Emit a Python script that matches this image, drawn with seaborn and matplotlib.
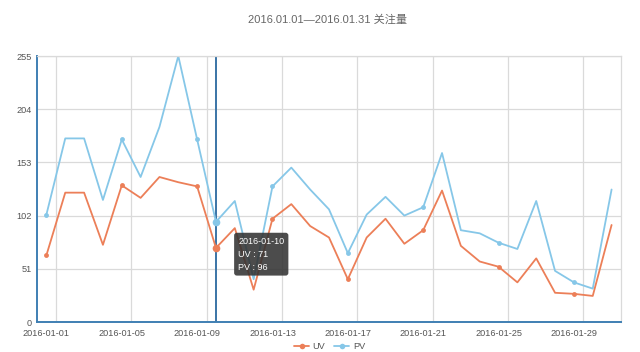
import matplotlib
matplotlib.use("Agg")
import matplotlib.pyplot as plt
from matplotlib.lines import Line2D
import numpy as np
import pandas as pd
import seaborn as sns

# ── data ──────────────────────────────────────────────────────────────────────
DATES = [f"2016-01-{d:02d}" for d in range(1, 32)]
UV = [64, 124, 124, 74, 131, 119, 139, 134, 130, 71, 90, 31, 99, 113, 92, 81,
      41, 81, 99, 75, 88, 126, 73, 58, 53, 38, 61, 28, 27, 25, 93]
PV = [103, 176, 176, 117, 175, 139, 187, 255, 175, 96, 116, 41, 130, 148, 127, 108,
      66, 103, 120, 102, 110, 162, 88, 85, 76, 70, 116, 49, 38, 32, 127]
Y_TICKS = [0, 51, 102, 153, 204, 255]
LABEL_EVERY = 4
HOVER_IDX = 9
TITLE = "2016.01.01—2016.01.31 关注量"

UV_COLOR = "#ec7f58"
PV_COLOR = "#86c7e8"
AXIS_COLOR = "#3f7fb3"
GRID_COLOR = "#dadada"

sns.set_theme(style="white")
plt.rcParams["font.family"] = ["Liberation Sans", "Noto Sans CJK SC", "DejaVu Sans"]

df = pd.DataFrame({"idx": np.arange(len(DATES)), "date": DATES, "UV": UV, "PV": PV})

fig = plt.figure(figsize=(6.4, 3.52), dpi=100)
ax = fig.add_axes([37 / 640, 1 - 322 / 352, (621 - 37) / 640, (322 - 56) / 352])

marks = list(range(0, len(DATES), LABEL_EVERY))
sns.lineplot(data=df, x="idx", y="PV", ax=ax, color=PV_COLOR, lw=1.3,
             marker="o", markersize=3.5, markeredgewidth=0, markevery=marks)
sns.lineplot(data=df, x="idx", y="UV", ax=ax, color=UV_COLOR, lw=1.3,
             marker="o", markersize=3.5, markeredgewidth=0, markevery=marks)

# hovered point + crosshair
ax.axvline(HOVER_IDX, color="#3a74a6", lw=1.4, zorder=1)
ax.plot([HOVER_IDX], [PV[HOVER_IDX]], "o", color=PV_COLOR, ms=5.5, mec="none", zorder=4)
ax.plot([HOVER_IDX], [UV[HOVER_IDX]], "o", color=UV_COLOR, ms=5.5, mec="none", zorder=4)

ax.annotate(f"{DATES[HOVER_IDX]}\nUV : {UV[HOVER_IDX]}\nPV : {PV[HOVER_IDX]}",
            xy=(HOVER_IDX, UV[HOVER_IDX]), xytext=(16, 8), textcoords="offset points",
            ha="left", va="top", color="white", fontsize=6.5, linespacing=1.55,
            bbox=dict(boxstyle="round,pad=0.45,rounding_size=0.3", fc="#333333",
                      ec="none", alpha=0.88), zorder=6)

# axes, ticks, grid
n = len(DATES)
ax.set_xlim(-0.5, n - 0.5)
ax.set_ylim(Y_TICKS[0], Y_TICKS[-1])
ax.set_yticks(Y_TICKS)
ax.set_xticks(marks)
ax.set_xticklabels([DATES[i] for i in marks])
ax.set_xticks([i + 0.5 for i in marks], minor=True)
ax.set_xlabel("")
ax.set_ylabel("")

ax.grid(False)
ax.yaxis.grid(True, color=GRID_COLOR, lw=0.9)
ax.xaxis.grid(True, which="minor", color=GRID_COLOR, lw=0.9)
ax.set_axisbelow(True)

ax.tick_params(axis="x", which="major", length=0, labelsize=6.6, colors="#555555", pad=5)
ax.tick_params(axis="x", which="minor", length=4, width=1, color=AXIS_COLOR, direction="out")
ax.tick_params(axis="y", length=0, labelsize=6.6, colors="#555555", pad=4)

for side in ("left", "bottom"):
    ax.spines[side].set_color(AXIS_COLOR)
    ax.spines[side].set_linewidth(1.4)
for side in ("top", "right"):
    ax.spines[side].set_color(GRID_COLOR)
    ax.spines[side].set_linewidth(0.9)

fig.text(327 / 640, 1 - 20 / 352, TITLE, ha="center", va="center", fontsize=8, color="#666666")

handles = [
    Line2D([0], [0], color=UV_COLOR, lw=1.3, marker="o", ms=4, mec="none"),
    Line2D([0], [0], color=PV_COLOR, lw=1.3, marker="o", ms=4, mec="none"),
]
fig.legend(handles, ["UV", "PV"], loc="center", bbox_to_anchor=(0.515, 0.016),
           ncol=2, frameon=False, fontsize=6.6, handlelength=1.6,
           columnspacing=1.0, handletextpad=0.4, labelcolor="#555555",
           borderpad=0.1)

fig.savefig("out.png", dpi=100)
